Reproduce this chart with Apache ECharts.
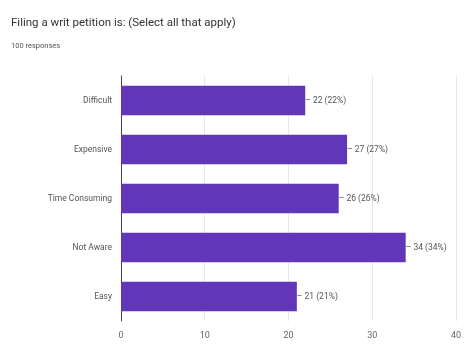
<!DOCTYPE html>
<html><head><meta charset="utf-8">
<script src="https://cdn.jsdelivr.net/npm/echarts@6/dist/echarts.min.js"></script>
<style>html,body{margin:0;padding:0;background:#fff}#c{width:464px;height:347px}</style>
</head><body><div id="c"></div>
<script>
const categories = ['Difficult', 'Expensive', 'Time Consuming', 'Not Aware', 'Easy'];
const counts = [22, 27, 26, 34, 21];
const percents = [22, 27, 26, 34, 21];
const xTicks = [0, 10, 20, 30, 40];
const totalResponses = 100;

const chart = echarts.init(document.getElementById('c'));
chart.setOption({
  animation: false,
  title: {
    text: 'Filing a writ petition is: (Select all that apply)',
    subtext: totalResponses + ' responses',
    left: 6, top: 12, itemGap: 13,
    textStyle: { fontFamily: 'Roboto', fontSize: 11.5, fontWeight: 'normal', color: '#333' },
    subtextStyle: { fontFamily: 'Roboto', fontSize: 7.5, color: '#555' }
  },
  grid: { left: 121, right: 7, top: 76, bottom: 26 },
  xAxis: {
    type: 'value', min: xTicks[0], max: xTicks[xTicks.length - 1], interval: 10,
    axisLine: { show: false }, axisTick: { show: false },
    splitLine: { lineStyle: { color: '#e8e8e8' } },
    axisLabel: { fontFamily: 'Roboto', fontSize: 9, color: '#666', margin: 10 }
  },
  yAxis: {
    type: 'category', data: categories, inverse: true,
    axisLine: { lineStyle: { color: '#444' } }, axisTick: { show: false },
    axisLabel: { fontFamily: 'Roboto', fontSize: 8.5, color: '#555', margin: 9 }
  },
  series: [{
    type: 'bar', data: counts, barWidth: '60%',
    itemStyle: { color: '#6236b8' },
    label: {
      show: true, position: 'right', distance: 0,
      fontFamily: 'Roboto', fontSize: 8.5, color: '#555',
      formatter: p => '\u2013 ' + p.value + ' (' + percents[p.dataIndex] + '%)'
    }
  }]
});
</script></body></html>
